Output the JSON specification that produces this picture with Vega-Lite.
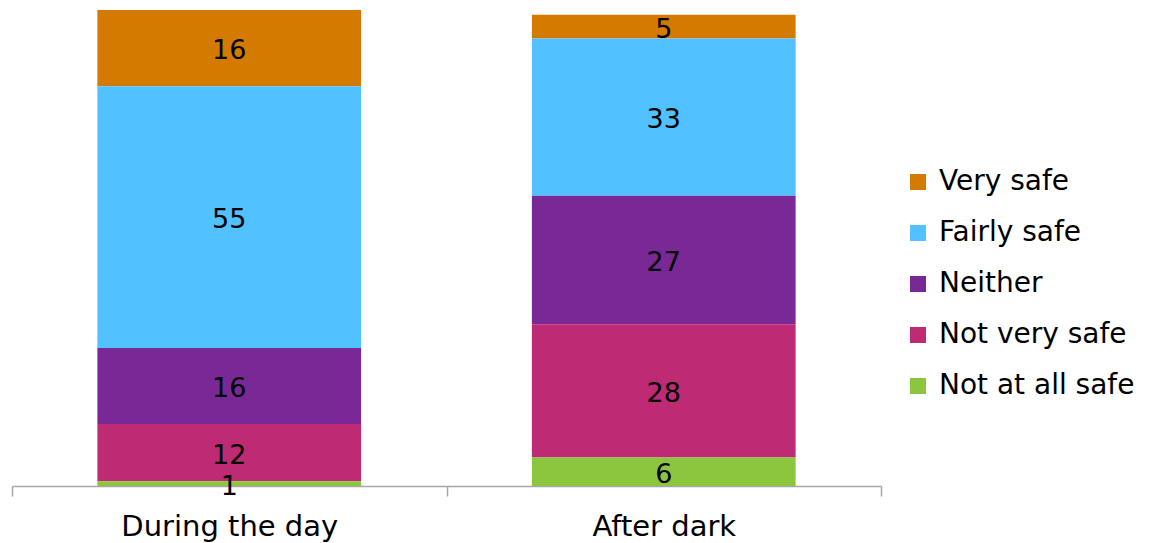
{
  "$schema": "https://vega.github.io/schema/vega-lite/v6.json",
  "width": 869,
  "height": 476,
  "autosize": "none",
  "padding": {"left": 12, "top": 10, "right": 269, "bottom": 57},
  "config": {"view": {"stroke": null}, "font": "DejaVu Sans"},
  "data": {
    "values": [
      {"period": "During the day", "resp": "Very safe", "v": 16},
      {"period": "During the day", "resp": "Fairly safe", "v": 55},
      {"period": "During the day", "resp": "Neither", "v": 16},
      {"period": "During the day", "resp": "Not very safe", "v": 12},
      {"period": "During the day", "resp": "Not at all safe", "v": 1},
      {"period": "After dark", "resp": "Very safe", "v": 5},
      {"period": "After dark", "resp": "Fairly safe", "v": 33},
      {"period": "After dark", "resp": "Neither", "v": 27},
      {"period": "After dark", "resp": "Not very safe", "v": 28},
      {"period": "After dark", "resp": "Not at all safe", "v": 6}
    ]
  },
  "transform": [
    {"calculate": "indexof(['Not at all safe','Not very safe','Neither','Fairly safe','Very safe'], datum.resp)", "as": "rank"},
    {"stack": "v", "groupby": ["period"], "sort": [{"field": "rank", "order": "ascending"}], "as": ["y0", "y1"]},
    {"calculate": "(datum.y0 + datum.y1) / 2", "as": "mid"}
  ],
  "encoding": {
    "x": {
      "field": "period", "type": "nominal", "sort": ["During the day", "After dark"],
      "scale": {"paddingInner": 0, "paddingOuter": 0},
      "axis": {
        "title": null, "tickBand": "extent", "labelAngle": 0,
        "domainColor": "#a6a6a6", "tickColor": "#a6a6a6", "domainWidth": 1.5, "tickWidth": 1.5,
        "tickSize": 10, "labelFontSize": 29, "labelColor": "#000000", "labelPadding": 16,
        "labelFont": "DejaVu Sans", "labelLimit": 400
      }
    }
  },
  "layer": [
    {
      "mark": {"type": "bar", "width": {"band": 0.607}},
      "encoding": {
        "y": {"field": "y0", "type": "quantitative", "scale": {"domain": [0, 100]}, "axis": null},
        "y2": {"field": "y1"},
        "color": {
          "field": "resp", "type": "nominal",
          "scale": {
            "domain": ["Very safe", "Fairly safe", "Neither", "Not very safe", "Not at all safe"],
            "range": ["#D57A00", "#52C1FF", "#7A2895", "#BE2A73", "#8CC63E"]
          },
          "legend": {
            "title": null, "orient": "none", "legendX": 892, "legendY": 158,
            "symbolType": "square", "symbolSize": 256, "symbolStrokeWidth": 0,
            "labelFontSize": 28, "labelColor": "#000000", "rowPadding": 23, "labelOffset": 7,
            "labelFont": "DejaVu Sans", "labelLimit": 400
          }
        }
      }
    },
    {
      "mark": {"type": "text", "fontSize": 27, "color": "#000000", "baseline": "middle", "dy": 3, "font": "DejaVu Sans"},
      "encoding": {
        "y": {"field": "mid", "type": "quantitative", "scale": {"domain": [0, 100]}},
        "text": {"field": "v", "type": "quantitative"}
      }
    }
  ]
}
